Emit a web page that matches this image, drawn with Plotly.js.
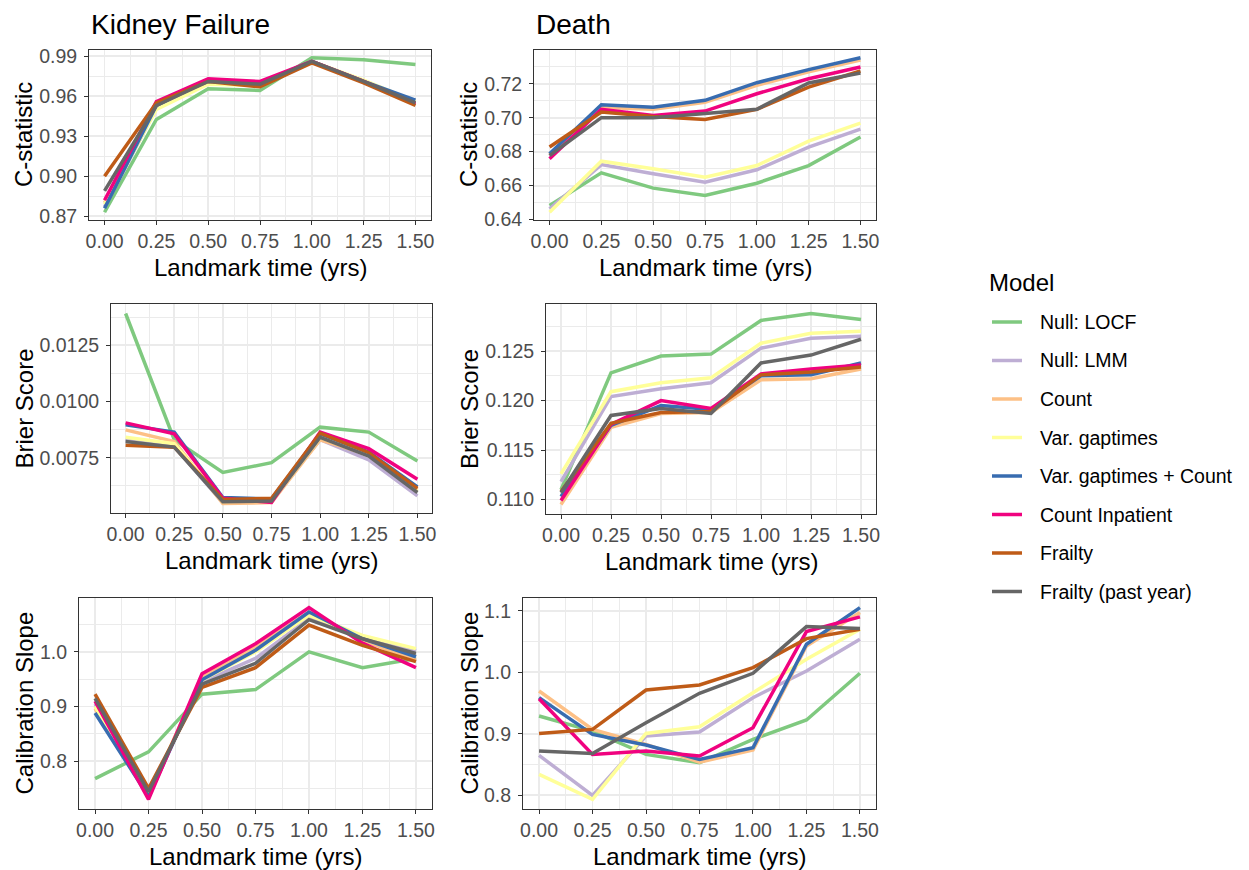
<!DOCTYPE html>
<html><head><meta charset="utf-8">
<script src="https://cdn.plot.ly/plotly-3.0.1.min.js"></script>
<style>html,body{margin:0;padding:0;background:#fff}#chart{width:1249px;height:870px}</style>
</head><body><div id="chart"></div>
<script>
// ---------- data ----------
const landmark = [0, 0.25, 0.5, 0.75, 1.0, 1.25, 1.5];
const xTickVals = [0, 0.25, 0.5, 0.75, 1.0, 1.25, 1.5];
const models = ["Null: LOCF", "Null: LMM", "Count", "Var. gaptimes",
  "Var. gaptimes + Count", "Count Inpatient", "Frailty", "Frailty (past year)"];
const modelColors = ["#7FC97F", "#BEAED4", "#FDC086", "#FFFF99",
  "#386CB0", "#F0027F", "#BF5B17", "#666666"];

// one row per model (same order as models)
const kidneyCstat = [
  [0.873, 0.9425, 0.9655, 0.9643, 0.9888, 0.9873, 0.9838],
  [0.877, 0.951, 0.970, 0.968, 0.986, 0.971, 0.955],
  [0.880, 0.953, 0.972, 0.969, 0.986, 0.971, 0.955],
  [0.879, 0.950, 0.969, 0.968, 0.986, 0.972, 0.956],
  [0.876, 0.953, 0.972, 0.970, 0.986, 0.971, 0.957],
  [0.882, 0.956, 0.973, 0.971, 0.986, 0.971, 0.954],
  [0.900, 0.955, 0.971, 0.967, 0.985, 0.970, 0.953],
  [0.889, 0.953, 0.971, 0.969, 0.986, 0.971, 0.955]
];
const deathCstat = [
  [0.6483, 0.6675, 0.6585, 0.6542, 0.6614, 0.6718, 0.6886],
  [0.6463, 0.6724, 0.6670, 0.6620, 0.6693, 0.6827, 0.6933],
  [0.6780, 0.7060, 0.7050, 0.7090, 0.7190, 0.7270, 0.7340],
  [0.6443, 0.6744, 0.6699, 0.6650, 0.6718, 0.6862, 0.6968],
  [0.6787, 0.7076, 0.7062, 0.7102, 0.7206, 0.7283, 0.7353],
  [0.6758, 0.7049, 0.7013, 0.7039, 0.7141, 0.7229, 0.7298],
  [0.6827, 0.7033, 0.7007, 0.6990, 0.7049, 0.7180, 0.7275],
  [0.6777, 0.7000, 0.7000, 0.7023, 0.7050, 0.7204, 0.7263]
];
const kidneyBrier = [
  [0.01392, 0.00830, 0.00684, 0.00728, 0.00886, 0.00864, 0.00735],
  [0.00830, 0.00800, 0.00550, 0.00560, 0.00830, 0.00740, 0.00580],
  [0.00874, 0.00822, 0.00546, 0.00550, 0.00830, 0.00763, 0.00605],
  [0.00841, 0.00812, 0.00555, 0.00558, 0.00840, 0.00760, 0.00600],
  [0.00896, 0.00864, 0.00573, 0.00566, 0.00856, 0.00775, 0.00620],
  [0.00905, 0.00856, 0.00569, 0.00551, 0.00864, 0.00790, 0.00654],
  [0.00805, 0.00797, 0.00564, 0.00569, 0.00859, 0.00772, 0.00613],
  [0.00822, 0.00797, 0.00554, 0.00557, 0.00841, 0.00757, 0.00595]
];
const deathBrier = [
  [0.1110, 0.1228, 0.1245, 0.1247, 0.1281, 0.1288, 0.1282],
  [0.1118, 0.1204, 0.1212, 0.1218, 0.1253, 0.1263, 0.1265],
  [0.1095, 0.1173, 0.1187, 0.1188, 0.1221, 0.1222, 0.1232],
  [0.1126, 0.1209, 0.1218, 0.1223, 0.1258, 0.1268, 0.1270],
  [0.1103, 0.1175, 0.1195, 0.1191, 0.1225, 0.1226, 0.1238],
  [0.1099, 0.1176, 0.1200, 0.1192, 0.1227, 0.1232, 0.1236],
  [0.1108, 0.1177, 0.1188, 0.1189, 0.1226, 0.1229, 0.1234],
  [0.1107, 0.1185, 0.1192, 0.1187, 0.1238, 0.1246, 0.1262]
];
const kidneyCalib = [
  [0.768, 0.817, 0.9226, 0.931, 1.000, 0.971, 0.988],
  [0.905, 0.741, 0.945, 0.988, 1.061, 1.027, 1.002],
  [0.896, 0.738, 0.954, 1.009, 1.073, 1.021, 0.985],
  [0.900, 0.741, 0.948, 1.000, 1.067, 1.030, 1.006],
  [0.888, 0.735, 0.949, 1.003, 1.073, 1.024, 0.991],
  [0.910, 0.730, 0.960, 1.015, 1.081, 1.016, 0.971],
  [0.9226, 0.750, 0.935, 0.971, 1.049, 1.012, 0.982],
  [0.915, 0.744, 0.941, 0.979, 1.059, 1.024, 0.997]
];
const deathCalib = [
  [0.9288, 0.9043, 0.8663, 0.8527, 0.8908, 0.9223, 0.9984],
  [0.8647, 0.7995, 0.8962, 0.9027, 0.9587, 1.0022, 1.0538],
  [0.9696, 0.9070, 0.8826, 0.8538, 0.8734, 1.0429, 1.0973],
  [0.8337, 0.7930, 0.9005, 0.9114, 0.9668, 1.0212, 1.0700],
  [0.9587, 0.8989, 0.8815, 0.8582, 0.8772, 1.0457, 1.1054],
  [0.9570, 0.8663, 0.8717, 0.8636, 0.9098, 1.0663, 1.0902],
  [0.9005, 0.9070, 0.9712, 0.9793, 1.0076, 1.0549, 1.0700],
  [0.8717, 0.8679, 0.9179, 0.9658, 0.9984, 1.0745, 1.0712]
];

// ---------- layout helpers ----------
const W = 1249, H = 870;
const px = v => v / W;
const py = v => 1 - v / H;
const FONT = "Liberation Sans, Arial, Helvetica, sans-serif";
const LW = 3.5;

const panels = [
  {data: kidneyCstat, ytitle: "C-statistic", dtick: 0.03, minor: 0.015, fmt: ".2f", box: [89, 431, 50, 220]},
  {data: deathCstat,  ytitle: "C-statistic", dtick: 0.02, minor: 0.01, fmt: ".2f", box: [534, 876, 50, 220]},
  {data: kidneyBrier, ytitle: "Brier Score", dtick: 0.0025, minor: 0.00125, fmt: ".4f", box: [111, 432, 304, 513]},
  {data: deathBrier,  ytitle: "Brier Score", dtick: 0.005, minor: 0.0025, fmt: ".3f", box: [546, 876, 304, 514]},
  {data: kidneyCalib, ytitle: "Calibration Slope", dtick: 0.1, minor: 0.05, fmt: ".1f", box: [79, 432, 598, 809]},
  {data: deathCalib,  ytitle: "Calibration Slope", dtick: 0.1, minor: 0.05, fmt: ".1f", box: [523, 876, 598, 809]}
];
const yTitleX = [24, 469, 24, 469, 24, 469];

const traces = [];
const layout = {
  width: W, height: H,
  margin: {l: 0, r: 0, t: 0, b: 0},
  paper_bgcolor: "#fff", plot_bgcolor: "#fff",
  font: {family: FONT, color: "#000"},
  showlegend: false,
  annotations: [],
  shapes: [],
  hovermode: false
};

panels.forEach((p, i) => {
  const n = i + 1;
  const xa = "x" + (n === 1 ? "" : n), ya = "y" + (n === 1 ? "" : n);
  let lo = Infinity, hi = -Infinity;
  p.data.forEach(r => r.forEach(v => { lo = Math.min(lo, v); hi = Math.max(hi, v); }));
  const pad = (hi - lo) * 0.05;
  const xpad = (landmark[landmark.length - 1] - landmark[0]) * 0.05;

  p.data.forEach((vals, m) => {
    traces.push({
      type: "scatter", mode: "lines",
      x: landmark, y: vals,
      xaxis: xa, yaxis: ya,
      name: models[m], legendgroup: models[m],
      line: {color: modelColors[m], width: LW},
      hoverinfo: "skip"
    });
  });

  const [l, r, t, b] = p.box;
  const common = {
    showline: true, mirror: true, linecolor: "#333333", linewidth: 1,
    ticks: "outside", ticklen: 4, tickwidth: 1, tickcolor: "#333333",
    showgrid: true, gridcolor: "#EBEBEB", gridwidth: 1.8,
    zeroline: false,
    tickfont: {size: 19.5, family: FONT, color: "#4D4D4D"},
    fixedrange: true
  };
  layout["xaxis" + (n === 1 ? "" : n)] = Object.assign({}, common, {
    domain: [px(l), px(r)], anchor: ya,
    range: [landmark[0] - xpad, landmark[landmark.length - 1] + xpad],
    tickvals: xTickVals, tickformat: ".2f",
    minor: {tickvals: [0.125, 0.375, 0.625, 0.875, 1.125, 1.375], showgrid: true, gridcolor: "#EBEBEB", gridwidth: 1}
  });
  layout["yaxis" + (n === 1 ? "" : n)] = Object.assign({}, common, {
    domain: [py(b), py(t)], anchor: xa,
    range: [lo - pad, hi + pad],
    tick0: 0, dtick: p.dtick, tickformat: p.fmt, ticklabelstandoff: 3,
    minor: {tick0: p.minor, dtick: p.dtick, showgrid: true, gridcolor: "#EBEBEB", gridwidth: 1}
  });

  // axis titles
  layout.annotations.push({
    xref: "paper", yref: "paper", x: px((l + r) / 2), y: py(b + 47),
    xanchor: "center", yanchor: "middle", showarrow: false,
    text: "Landmark time (yrs)", font: {size: 24, family: FONT, color: "#000"}
  });
  layout.annotations.push({
    xref: "paper", yref: "paper", x: px(yTitleX[i]), y: py((t + b) / 2),
    xanchor: "center", yanchor: "middle", showarrow: false, textangle: -90,
    text: p.ytitle, font: {size: 24, family: FONT, color: "#000"}
  });
});

// panel titles
layout.annotations.push({
  xref: "paper", yref: "paper", x: px(89), y: py(24), xanchor: "left", yanchor: "middle",
  showarrow: false, text: "Kidney Failure", font: {size: 28, family: FONT, color: "#000"}
});
layout.annotations.push({
  xref: "paper", yref: "paper", x: px(534), y: py(24), xanchor: "left", yanchor: "middle",
  showarrow: false, text: "Death", font: {size: 28, family: FONT, color: "#000"}
});

// legend (ggplot-style key: line + label)
layout.annotations.push({
  xref: "paper", yref: "paper", x: px(987), y: py(282), xanchor: "left", yanchor: "middle",
  showarrow: false, text: "Model", font: {size: 24, family: FONT, color: "#000"}
});
models.forEach((name, m) => {
  const ky = 322 + m * 38.5;
  layout.shapes.push({
    type: "line", xref: "paper", yref: "paper",
    x0: px(992), x1: px(1022), y0: py(ky), y1: py(ky),
    line: {color: modelColors[m], width: LW}
  });
  layout.annotations.push({
    xref: "paper", yref: "paper", x: px(1038), y: py(ky), xanchor: "left", yanchor: "middle",
    showarrow: false, text: name, font: {size: 19.5, family: FONT, color: "#000"}
  });
});

Plotly.newPlot("chart", traces, layout, {displayModeBar: false, staticPlot: true});
</script>
</body></html>
